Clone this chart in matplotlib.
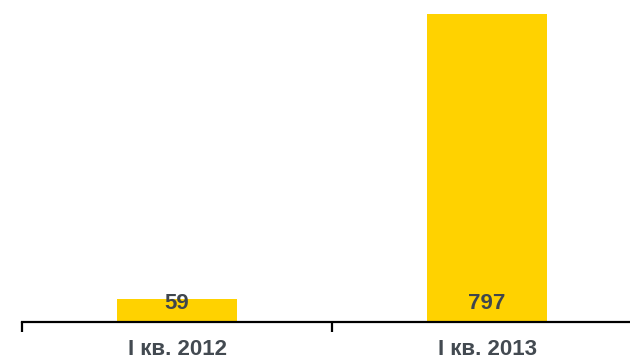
import matplotlib
matplotlib.use("Agg")
import matplotlib.pyplot as plt
from matplotlib.transforms import blended_transform_factory

categories = ["I кв. 2012", "I кв. 2013"]
values = [59, 797]

fig = plt.figure(figsize=(6.3, 3.58), dpi=100)
W, H = 630, 358
ax_left, ax_right = 22, 642
ax_bottom, ax_top = 321.5, 0
ax = fig.add_axes([ax_left / W, (H - ax_bottom) / H, (ax_right - ax_left) / W, (ax_bottom - ax_top) / H])

x = list(range(len(categories)))
ax.bar(x, values, width=0.39, color="#FFD200", zorder=2)
ax.set_xlim(-0.5, len(categories) - 0.5)
ax.set_ylim(0, 832)

for xi, v in zip(x, values):
    ax.text(xi, 33, str(v), ha="center", va="baseline", fontsize=16, fontweight="bold",
            color="#3f464d", family="Liberation Sans", zorder=3)

for s in ["top", "right", "left"]:
    ax.spines[s].set_visible(False)
ax.spines["bottom"].set_linewidth(1.6)
ax.spines["bottom"].set_color("black")
ax.set_yticks([])
ax.set_xticks([i - 0.5 for i in range(len(categories) + 1)])
ax.set_xticklabels([])
ax.tick_params(axis="x", direction="out", length=7, width=1.6, color="black")

trans = blended_transform_factory(ax.transData, ax.transAxes)
for xi, c in zip(x, categories):
    ax.text(xi, -0.104, c, transform=trans, ha="center", va="baseline", fontsize=16,
            fontweight="bold", color="#434a51", family="Liberation Sans", clip_on=False)

fig.savefig("out.png", dpi=100)
